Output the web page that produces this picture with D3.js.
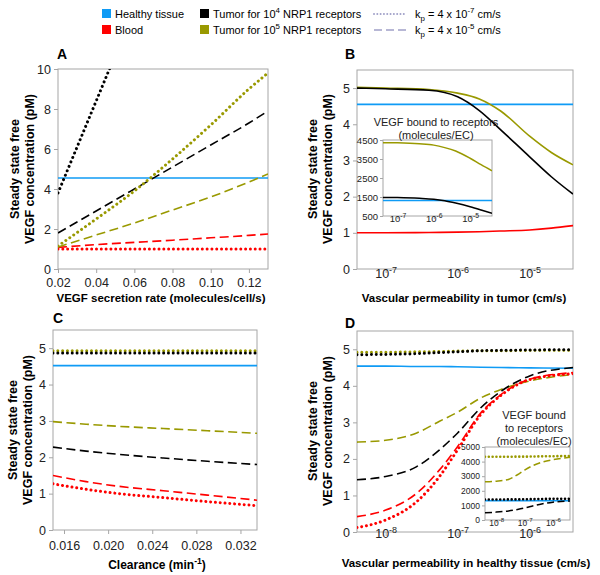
<!DOCTYPE html>
<html>
<head>
<meta charset="utf-8">
<script src="https://cdn.jsdelivr.net/npm/d3@7"></script>
<style>
  body { margin: 0; background: #fff; }
  svg { font-family: "Liberation Sans", Arial, sans-serif; }
</style>
</head>
<body>
<svg id="fig" width="600" height="575"></svg>
<script>
"use strict";

// ---- panel A : VEGF secretion rate ----
const aX = [0.02, 0.04, 0.06, 0.08, 0.10, 0.12, 0.13];
const aXSteep = [0.02, 0.03, 0.04, 0.05];
const aHealthy = [4.55, 4.55, 4.55, 4.55, 4.55, 4.55, 4.55];
const aBloodLow = [1.0, 1.0, 1.0, 1.0, 1.0, 1.0, 1.0];
const aBloodHigh = [1.08, 1.22, 1.33, 1.44, 1.56, 1.68, 1.75];
const aT4Low = [3.8, 6.1, 8.4, 10.7];
const aT4High = [1.8, 2.9, 4.0, 5.1, 6.2, 7.3, 7.9];
const aT5Low = [1.15, 2.5, 3.9, 5.5, 7.2, 9.0, 9.8];
const aT5High = [1.1, 1.7, 2.3, 2.95, 3.6, 4.35, 4.75];

// ---- panel B : permeability in tumor ----
const bX = [4e-8, 1e-7, 4e-7, 1e-6, 2e-6, 4e-6, 1e-5, 2e-5, 4e-5];
const bHealthy = [4.55, 4.55, 4.55, 4.55, 4.55, 4.55, 4.55, 4.55, 4.55];
const bBlood = [1.0, 1.0, 1.01, 1.02, 1.03, 1.05, 1.08, 1.13, 1.2];
const bT4 = [5.0, 4.98, 4.94, 4.76, 4.38, 3.84, 3.1, 2.55, 2.07];
const bT5 = [5.02, 5.0, 4.96, 4.86, 4.7, 4.36, 3.67, 3.22, 2.88];
// inset B : bound VEGF (molecules/EC)
const bInHealthy = [1320, 1320, 1320, 1320, 1320, 1320, 1320, 1320, 1320];
const bInT4 = [1480, 1470, 1430, 1380, 1300, 1180, 990, 820, 640];
const bInT5 = [4360, 4350, 4300, 4230, 4100, 3920, 3540, 3200, 2880];

// ---- panel C : clearance ----
const cX = [0.015, 0.018, 0.021, 0.025, 0.029, 0.0335];
const cHealthy = [4.52, 4.52, 4.52, 4.52, 4.52, 4.52];
const cBloodLow = [1.27, 1.12, 1.0, 0.89, 0.78, 0.67];
const cBloodHigh = [1.5, 1.33, 1.2, 1.08, 0.96, 0.82];
const cT4Low = [4.87, 4.87, 4.87, 4.87, 4.87, 4.87];
const cT4High = [2.28, 2.17, 2.08, 1.98, 1.89, 1.8];
const cT5Low = [4.93, 4.93, 4.93, 4.93, 4.93, 4.93];
const cT5High = [2.98, 2.91, 2.85, 2.79, 2.73, 2.66];

// ---- panel D : permeability in healthy tissue ----
const dX = [4e-9, 1e-8, 2.7e-8, 5.6e-8, 1e-7, 2.1e-7, 4e-7, 1e-6, 4e-6];
const dHealthy = [4.54, 4.54, 4.53, 4.53, 4.52, 4.51, 4.5, 4.49, 4.48];
const dBloodLow = [0.12, 0.33, 0.83, 1.52, 2.25, 3.22, 3.74, 4.17, 4.33];
const dBloodHigh = [0.42, 0.6, 1.06, 1.7, 2.34, 3.26, 3.76, 4.18, 4.36];
const dT4Low = [4.85, 4.86, 4.88, 4.91, 4.93, 4.96, 4.97, 4.98, 4.99];
const dT4High = [1.43, 1.52, 1.79, 2.25, 2.71, 3.4, 3.85, 4.27, 4.5];
const dT5Low = [4.92, 4.92, 4.93, 4.94, 4.95, 4.96, 4.96, 4.97, 4.97];
const dT5High = [2.46, 2.51, 2.71, 3.03, 3.28, 3.67, 3.9, 4.13, 4.31];
// inset D
const dInHealthy = [1320, 1320, 1320, 1320, 1320, 1320, 1320, 1320, 1320];
const dInT4Low = [1400, 1400, 1410, 1410, 1420, 1430, 1440, 1450, 1450];
const dInT4High = [500, 540, 620, 720, 820, 980, 1100, 1220, 1310];
const dInT5Low = [4330, 4330, 4330, 4340, 4340, 4350, 4360, 4370, 4380];
const dInT5High = [2620, 2660, 2780, 3100, 3420, 3750, 3950, 4130, 4290];

const BLUE = "#0f9bf5", RED = "#ff0000", BLACK = "#000000", OLIVE = "#999900";
const FRAME = "#a6a6a6";

const svg = d3.select("#fig");
let clipId = 0;

// text with super/subscripts, parts = ["txt", ["4", "sup"], ...]
function rich(text, parts, fs) {
  let cur = 0;
  parts.forEach(p => {
    const [s, k] = typeof p === "string" ? [p, ""] : p;
    const off = k === "sup" ? -fs * 0.42 : k === "sub" ? fs * 0.3 : 0;
    text.append("tspan")
      .attr("dy", off - cur)
      .attr("font-size", k ? fs * 0.72 : fs)
      .text(s);
    cur = off;
  });
  return text;
}

function series(xs, ys, color, style) {
  return { xs, ys, color, style };
}

function panel(cfg) {
  const g = svg.append("g");
  const x = (cfg.log ? d3.scaleLog() : d3.scaleLinear())
    .domain(cfg.xDomain).range([cfg.left, cfg.right]);
  const y = d3.scaleLinear().domain(cfg.yDomain).range([cfg.bottom, cfg.top]);

  g.append("rect")
    .attr("x", cfg.left).attr("y", cfg.top)
    .attr("width", cfg.right - cfg.left).attr("height", cfg.bottom - cfg.top)
    .attr("fill", "#fff").attr("stroke", FRAME).attr("stroke-width", 1);

  const fs = cfg.fs;
  const xAxis = d3.axisBottom(x).tickValues(cfg.xTicks)
    .tickSize(cfg.tick).tickPadding(cfg.xPad);
  if (!cfg.log) xAxis.tickFormat(d3.format(cfg.xFmt));
  const gx = g.append("g").attr("transform", `translate(0,${cfg.bottom})`).call(xAxis);

  const yAxis = d3.axisLeft(y).tickValues(cfg.yTicks)
    .tickSize(cfg.tick).tickPadding(cfg.yPad).tickFormat(d3.format("d"));
  const gy = g.append("g").attr("transform", `translate(${cfg.left},0)`).call(yAxis);

  [gx, gy].forEach(a => {
    a.select(".domain").remove();
    a.selectAll(".tick line").attr("stroke", FRAME);
    a.selectAll(".tick text").attr("font-size", fs).attr("fill", "#222")
      .attr("font-family", "Liberation Sans, Arial, sans-serif");
  });
  if (cfg.log) {
    gx.selectAll(".tick text").each(function (d) {
      const t = d3.select(this).text(null);
      rich(t, ["10", [String(Math.round(Math.log10(d))), "sup"]], fs);
    });
  }

  const id = "clip" + (clipId++);
  g.append("clipPath").attr("id", id).append("rect")
    .attr("x", cfg.left).attr("y", cfg.top)
    .attr("width", cfg.right - cfg.left).attr("height", cfg.bottom - cfg.top);

  const line = d3.line().curve(d3.curveMonotoneX)
    .x(d => x(d[0])).y(d => y(d[1]));
  const lg = g.append("g").attr("clip-path", `url(#${id})`);
  cfg.series.forEach(s => {
    const p = lg.append("path")
      .attr("d", line(s.xs.map((v, i) => [v, s.ys[i]])))
      .attr("fill", "none").attr("stroke", s.color);
    if (s.style === "dot") {
      p.attr("stroke-width", cfg.dotW).attr("stroke-linecap", "round")
        .attr("stroke-dasharray", `0.01 ${cfg.dotGap}`);
    } else if (s.style === "dash") {
      p.attr("stroke-width", cfg.lineW).attr("stroke-dasharray", cfg.dash);
    } else {
      p.attr("stroke-width", cfg.lineW);
    }
  });
  return g;
}

const mainStyle = { fs: 12.5, tick: 4, yPad: 3, lineW: 1.6, dotW: 3, dotGap: 4.8, dash: "9 4.5" };
const insetStyle = { fs: 9.5, tick: 3, yPad: 2, xPad: 3, lineW: 1.5, dotW: 2.6, dotGap: 3.8, dash: "7 3.5" };

// Panel A
panel(Object.assign({}, mainStyle, {
  left: 58, right: 268, top: 69, bottom: 269, xPad: 5,
  xDomain: [0.02, 0.13], yDomain: [0, 10],
  xTicks: [0.02, 0.04, 0.06, 0.08, 0.10, 0.12], xFmt: ".2f",
  yTicks: [0, 2, 4, 6, 8, 10],
  series: [
    series(aX, aHealthy, BLUE, "solid"),
    series(aX, aBloodHigh, RED, "dash"),
    series(aX, aBloodLow, RED, "dot"),
    series(aX, aT5High, OLIVE, "dash"),
    series(aX, aT4High, BLACK, "dash"),
    series(aX, aT5Low, OLIVE, "dot"),
    series(aXSteep, aT4Low, BLACK, "dot")
  ]
}));

// Panel B
panel(Object.assign({}, mainStyle, {
  left: 357, right: 573, top: 70, bottom: 269, xPad: 5, log: true,
  xDomain: [4e-8, 4e-5], yDomain: [0, 5.5],
  xTicks: [1e-7, 1e-6, 1e-5], yTicks: [0, 1, 2, 3, 4, 5],
  series: [
    series(bX, bHealthy, BLUE, "solid"),
    series(bX, bBlood, RED, "solid"),
    series(bX, bT5, OLIVE, "solid"),
    series(bX, bT4, BLACK, "solid")
  ]
}));
panel(Object.assign({}, insetStyle, {
  left: 383, right: 492, top: 140, bottom: 216, log: true,
  xDomain: [4e-8, 4e-5], yDomain: [500, 4500],
  xTicks: [1e-7, 1e-6, 1e-5], yTicks: [500, 1500, 2500, 3500, 4500],
  series: [
    series(bX, bInHealthy, BLUE, "solid"),
    series(bX, bInT5, OLIVE, "solid"),
    series(bX, bInT4, BLACK, "solid")
  ]
}));

// Panel C
panel(Object.assign({}, mainStyle, {
  left: 53, right: 257, top: 330, bottom: 530, xPad: 7,
  xDomain: [0.015, 0.0335], yDomain: [0, 5.5],
  xTicks: [0.016, 0.020, 0.024, 0.028, 0.032], xFmt: ".3f",
  yTicks: [0, 1, 2, 3, 4, 5],
  series: [
    series(cX, cHealthy, BLUE, "solid"),
    series(cX, cT5Low, OLIVE, "dot"),
    series(cX, cT4Low, BLACK, "dot"),
    series(cX, cT5High, OLIVE, "dash"),
    series(cX, cT4High, BLACK, "dash"),
    series(cX, cBloodHigh, RED, "dash"),
    series(cX, cBloodLow, RED, "dot")
  ]
}));

// Panel D
panel(Object.assign({}, mainStyle, {
  left: 357, right: 573, top: 331, bottom: 532, xPad: 2, log: true,
  xDomain: [4e-9, 4e-6], yDomain: [0, 5.5],
  xTicks: [1e-8, 1e-7, 1e-6], yTicks: [0, 1, 2, 3, 4, 5],
  series: [
    series(dX, dHealthy, BLUE, "solid"),
    series(dX, dT5Low, OLIVE, "dot"),
    series(dX, dT4Low, BLACK, "dot"),
    series(dX, dT5High, OLIVE, "dash"),
    series(dX, dT4High, BLACK, "dash"),
    series(dX, dBloodHigh, RED, "dash"),
    series(dX, dBloodLow, RED, "dot")
  ]
}));
panel(Object.assign({}, insetStyle, {
  left: 485, right: 570, top: 447, bottom: 520, log: true, fs: 8.5,
  xDomain: [4e-9, 4e-6], yDomain: [0, 5000],
  xTicks: [1e-8, 1e-7, 1e-6], yTicks: [0, 1000, 2000, 3000, 4000, 5000],
  series: [
    series(dX, dInHealthy, BLUE, "solid"),
    series(dX, dInT5Low, OLIVE, "dot"),
    series(dX, dInT5High, OLIVE, "dash"),
    series(dX, dInT4Low, BLACK, "dot"),
    series(dX, dInT4High, BLACK, "dash")
  ]
}));

// ---- texts ----
const bold = (x, y, s, size, anchor) => svg.append("text")
  .attr("x", x).attr("y", y).attr("font-size", size).attr("font-weight", "bold")
  .attr("text-anchor", anchor || "start").text(s);

bold(57, 59, "A", 14); bold(345, 59, "B", 14);
bold(53, 323, "C", 14); bold(345, 328, "D", 14);

function yTitle(xb, cy) {
  [["Steady state free", 0], ["VEGF concentration (pM)", 15]].forEach(([s, dx]) => {
    svg.append("text").attr("transform", `translate(${xb + dx},${cy}) rotate(-90)`)
      .attr("text-anchor", "middle").attr("font-size", 12.5).attr("font-weight", "bold")
      .text(s);
  });
}
yTitle(19, 169); yTitle(317, 169); yTitle(17, 430); yTitle(317, 431);

const xfs = 11.5;
bold(161, 302, "VEGF secretion rate (molecules/cell/s)", xfs, "middle");
bold(464, 302, "Vascular permeability in tumor (cm/s)", xfs, "middle");
rich(svg.append("text").attr("x", 157).attr("y", 569).attr("text-anchor", "middle")
  .attr("font-weight", "bold"), ["Clearance (min", ["-1", "sup"], ")"], 12);
bold(466, 567, "Vascular permeability in healthy tissue (cm/s)", xfs, "middle");

// inset titles
const note = (x, y, s) => svg.append("text").attr("x", x).attr("y", y)
  .attr("font-size", 11).attr("text-anchor", "middle").attr("fill", "#222").text(s);
note(436, 126, "VEGF bound to receptors");
note(436, 138.5, "(molecules/EC)");
note(534, 419, "VEGF bound");
note(534, 432, "to receptors");
note(534, 445, "(molecules/EC)");

// ---- legend ----
const lfs = 11;
[[102, 9, BLUE, ["Healthy tissue"]],
 [102, 25, RED, ["Blood"]],
 [200, 9, BLACK, ["Tumor for 10", ["4", "sup"], " NRP1 receptors"]],
 [200, 25, OLIVE, ["Tumor for 10", ["5", "sup"], " NRP1 receptors"]]
].forEach(([lx, ly, c, parts]) => {
  svg.append("rect").attr("x", lx).attr("y", ly).attr("width", 9).attr("height", 9).attr("fill", c);
  rich(svg.append("text").attr("x", lx + 13).attr("y", ly + 9), parts, lfs);
});
[[14, "dot", "-7"], [30, "dash", "-5"]].forEach(([ly, st, e]) => {
  const l = svg.append("line").attr("x1", 374).attr("x2", 407).attr("y1", ly).attr("y2", ly)
    .attr("stroke", "#a0a0c8");
  if (st === "dot") l.attr("stroke-width", 2).attr("stroke-linecap", "round").attr("stroke-dasharray", "0.01 3.3");
  else l.attr("stroke-width", 1.5).attr("stroke-dasharray", "8 4");
  rich(svg.append("text").attr("x", 415).attr("y", ly + 4),
    ["k", ["p", "sub"], " = 4 x 10", [e, "sup"], " cm/s"], lfs);
});
</script>
</body>
</html>
